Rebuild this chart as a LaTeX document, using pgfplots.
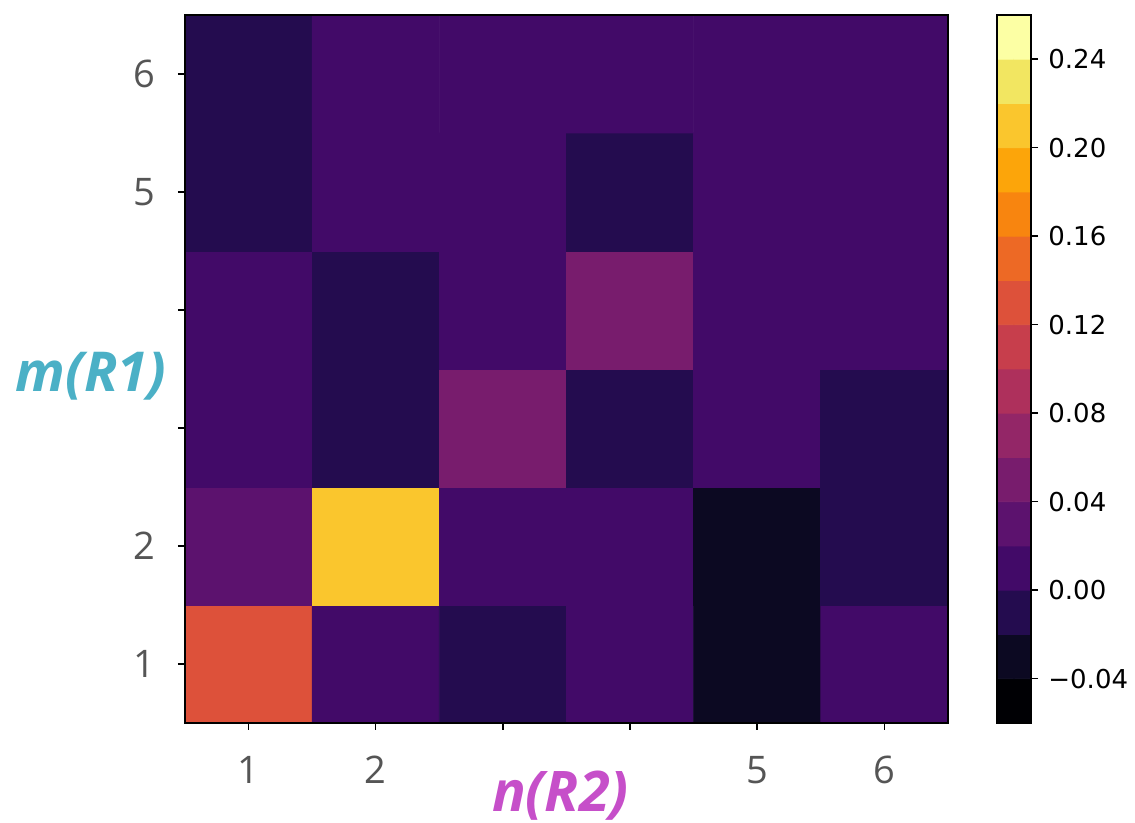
\documentclass[border=0pt]{standalone}
\usepackage{pgfplots}
\pgfplotsset{compat=1.18}
\usepackage{fontspec}
\setmainfont{Open Sans}
\newfontfamily\cbfont{DejaVu Sans}

\definecolor{tickgray}{RGB}{85,85,85}
\definecolor{mcolor}{RGB}{75,176,198}
\definecolor{ncolor}{RGB}{198,79,201}

% 16-step inferno map, one colour per 0.02 bin from -0.06 to 0.26
\pgfplotsset{
  colormap={infdisc}{
    rgb255=(0,0,4) rgb255=(12,9,34) rgb255=(36,12,79) rgb255=(66,10,104)
    rgb255=(92,18,110) rgb255=(120,28,109) rgb255=(147,38,103) rgb255=(174,48,92)
    rgb255=(199,62,76) rgb255=(221,81,58) rgb255=(237,105,37) rgb255=(248,133,15)
    rgb255=(252,165,10) rgb255=(250,198,45) rgb255=(242,230,97) rgb255=(252,255,164)
  },
}

\begin{document}
\begin{tikzpicture}
\useasboundingbox (-92.5pt,-50pt) rectangle (475pt,361.5pt);

\begin{axis}[
  at={(0pt,0pt)}, anchor=south west,
  scale only axis, width=381.5pt, height=354pt,
  xmin=0.5, xmax=6.5, ymin=0.5, ymax=6.5,
  enlargelimits=false, axis on top,
  xtick={1,2,3,4,5,6}, ytick={1,2,3,4,5,6},
  xticklabels={1,2,,,5,6}, yticklabels={1,2,,,5,6},
  xtick pos=left, ytick pos=left,
  tick align=outside, major tick length=3.5pt,
  tick style={black, line width=0.75pt},
  axis line style={black, line width=0.75pt},
  ticklabel style={font=\fontsize{19}{19}\selectfont, text=tickgray, inner sep=0pt},
  xticklabel style={anchor=north, yshift=-13pt},
  yticklabel style={anchor=east, xshift=-11pt},
  colormap name=infdisc, colormap access=piecewise constant,
  point meta min=-0.06, point meta max=0.26,
  xlabel={\bfseries\itshape n(R2)},
  ylabel={\bfseries\itshape m(R1)},
  xlabel style={at={(axis description cs:0.5,0)}, anchor=base, yshift=-44.5pt, xshift=-3pt,
    font=\fontsize{28}{28}\selectfont, text=ncolor, inner sep=0pt},
  ylabel style={rotate=-90, at={(axis description cs:0,0)}, anchor=base, xshift=-47pt, yshift=165.5pt,
    font=\fontsize{27.5}{27.5}\selectfont, text=mcolor, inner sep=0pt},
]
\addplot[matrix plot*, mesh/cols=6, point meta=explicit] coordinates {
  (1,1) [0.13]  (2,1) [0.01]  (3,1) [-0.01] (4,1) [0.01]  (5,1) [-0.03] (6,1) [0.01]

  (1,2) [0.03]  (2,2) [0.21]  (3,2) [0.01]  (4,2) [0.01]  (5,2) [-0.03] (6,2) [-0.01]

  (1,3) [0.01]  (2,3) [-0.01] (3,3) [0.05]  (4,3) [-0.01] (5,3) [0.01]  (6,3) [-0.01]

  (1,4) [0.01]  (2,4) [-0.01] (3,4) [0.01]  (4,4) [0.05]  (5,4) [0.01]  (6,4) [0.01]

  (1,5) [-0.01] (2,5) [0.01]  (3,5) [0.01]  (4,5) [-0.01] (5,5) [0.01]  (6,5) [0.01]

  (1,6) [-0.01] (2,6) [0.01]  (3,6) [0.01]  (4,6) [0.01]  (5,6) [0.01]  (6,6) [0.01]
};
\end{axis}

% colour bar
\begin{axis}[
  at={(406pt,0pt)}, anchor=south west,
  scale only axis, width=17pt, height=354pt,
  xmin=0, xmax=1, ymin=-0.06, ymax=0.26,
  enlargelimits=false, axis on top,
  xtick=\empty,
  ytick={-0.04,0,0.04,0.08,0.12,0.16,0.20,0.24},
  yticklabels={−0.04,0.00,0.04,0.08,0.12,0.16,0.20,0.24},
  ytick pos=right, tick align=outside, major tick length=3.5pt,
  tick style={black, line width=0.75pt},
  axis line style={black, line width=0.75pt},
  yticklabel style={font=\cbfont\fontsize{13}{13}\selectfont, anchor=west, inner sep=0pt, xshift=5pt},
  colormap name=infdisc, colormap access=piecewise constant,
  point meta min=-0.06, point meta max=0.26,
]
\addplot[matrix plot*, mesh/cols=2, point meta=explicit] coordinates {
  (0.25,-0.05) [-0.05] (0.75,-0.05) [-0.05]

  (0.25,-0.03) [-0.03] (0.75,-0.03) [-0.03]

  (0.25,-0.01) [-0.01] (0.75,-0.01) [-0.01]

  (0.25,0.01) [0.01] (0.75,0.01) [0.01]

  (0.25,0.03) [0.03] (0.75,0.03) [0.03]

  (0.25,0.05) [0.05] (0.75,0.05) [0.05]

  (0.25,0.07) [0.07] (0.75,0.07) [0.07]

  (0.25,0.09) [0.09] (0.75,0.09) [0.09]

  (0.25,0.11) [0.11] (0.75,0.11) [0.11]

  (0.25,0.13) [0.13] (0.75,0.13) [0.13]

  (0.25,0.15) [0.15] (0.75,0.15) [0.15]

  (0.25,0.17) [0.17] (0.75,0.17) [0.17]

  (0.25,0.19) [0.19] (0.75,0.19) [0.19]

  (0.25,0.21) [0.21] (0.75,0.21) [0.21]

  (0.25,0.23) [0.23] (0.75,0.23) [0.23]

  (0.25,0.25) [0.25] (0.75,0.25) [0.25]
};
\end{axis}
\end{tikzpicture}
\end{document}
